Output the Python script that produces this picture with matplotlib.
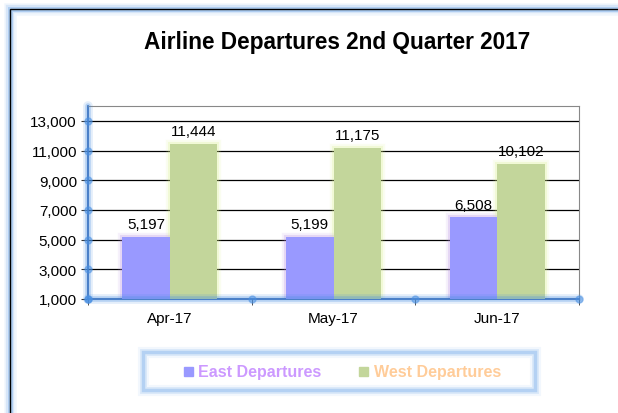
import numpy as np
import matplotlib.pyplot as plt
from matplotlib.patches import Rectangle
from matplotlib.ticker import FuncFormatter

months = ["Apr-17", "May-17", "Jun-17"]
east = [5197, 5199, 6508]
west = [11444, 11175, 10102]
yticks = [1000, 3000, 5000, 7000, 9000, 11000, 13000]

east_color = "#9999FF"
west_color = "#C3D69B"

plt.rcParams['font.family'] = ['Liberation Sans', 'DejaVu Sans']

fig = plt.figure(figsize=(6.18, 4.14), dpi=100)
fig.patch.set_facecolor("white")

# pixel -> figure fraction helpers
W, H = 618, 414
def fx(px):
    return px / W
def fy(py):
    return 1 - py / H

# outer chart frame with blue glow (left / top)
for lw, a in [(9, 0.08), (6, 0.15), (3.5, 0.3)]:
    fig.add_artist(Rectangle((fx(10), fy(440)), fx(660) - fx(10), fy(10) - fy(440),
                             transform=fig.transFigure, fill=False,
                             edgecolor="#4A90E2", lw=lw, alpha=a))
fig.add_artist(Rectangle((fx(10), fy(440)), fx(660) - fx(10), fy(10) - fy(440),
                         transform=fig.transFigure, fill=False,
                         edgecolor="black", lw=1.0))

ax = fig.add_axes([fx(88), fy(300), fx(579) - fx(88), fy(107) - fy(300)])
x = np.arange(len(months))
w = 0.29

# glow behind bars
for lw, a in [(6, 0.12), (3, 0.25)]:
    ax.bar(x - w / 2, [v - 1000 for v in east], w, bottom=1000, color="none",
           edgecolor="#B58CE0", lw=lw, alpha=a, zorder=2)
    ax.bar(x + w / 2, [v - 1000 for v in west], w, bottom=1000, color="none",
           edgecolor="#D8F08A", lw=lw, alpha=a, zorder=2)
ax.bar(x - w / 2, [v - 1000 for v in east], w, bottom=1000, color=east_color, zorder=3)
ax.bar(x + w / 2, [v - 1000 for v in west], w, bottom=1000, color=west_color, zorder=3)

for i in range(len(months)):
    ax.text(x[i] - w / 2, east[i] + 380, f"{east[i]:,}", ha="center", va="bottom",
            fontsize=11, zorder=5)
    ax.text(x[i] + w / 2, west[i] + 380, f"{west[i]:,}", ha="center", va="bottom",
            fontsize=11, zorder=5)

ax.set_xlim(-0.5, 2.5)
ax.set_ylim(1000, 14000)
ax.set_yticks(yticks)
ax.yaxis.set_major_formatter(FuncFormatter(lambda v, p: f"{int(v):,}"))
for t in yticks[1:]:
    ax.axhline(t, color="black", lw=0.9, zorder=1)

ax.set_xticks(x)
ax.set_xticklabels(months, fontsize=11)
ax.set_xticks([-0.5, 0.5, 1.5, 2.5], minor=True)
ax.tick_params(axis="x", which="major", length=0, pad=9)
ax.tick_params(axis="x", which="minor", length=4, color="#333333", direction="out")
ax.tick_params(axis="y", length=5, labelsize=11, color="#333333", pad=3)

for s in ["top", "right"]:
    ax.spines[s].set_color("#888888")
    ax.spines[s].set_linewidth(0.8)
for s in ["left", "bottom"]:
    ax.spines[s].set_color("#2A5CAA")
    ax.spines[s].set_linewidth(1.2)

# blue glow along left and bottom axes
for lw, a in [(7, 0.15), (4, 0.3)]:
    ax.plot([-0.5, -0.5], [1000, 14000], color="#4A90E2", lw=lw, alpha=a,
            clip_on=False, zorder=6, solid_capstyle="round")
    ax.plot([-0.5, 2.5], [1000, 1000], color="#4A90E2", lw=lw, alpha=a,
            clip_on=False, zorder=6, solid_capstyle="round")
ax.plot([-0.5] * len(yticks), yticks, "o", color="#4A90E2", ms=5, alpha=0.5,
        clip_on=False, zorder=6)
ax.plot([-0.5, 0.5, 1.5, 2.5], [1000] * 4, "o", color="#4A90E2", ms=5, alpha=0.5,
        clip_on=False, zorder=6)

fig.text(fx(337.5), fy(43), "Airline Departures 2nd Quarter 2017", ha="center",
         va="center", fontsize=16.3, fontweight="bold")

# legend box
lx0, ly0, lx1, ly1 = 143, 353, 535, 391
for lw, a in [(8, 0.08), (5, 0.15), (2.5, 0.3)]:
    fig.add_artist(Rectangle((fx(lx0), fy(ly1)), fx(lx1) - fx(lx0), fy(ly0) - fy(ly1),
                             transform=fig.transFigure, fill=False,
                             edgecolor="#5A9BE6", lw=lw, alpha=a))
fig.add_artist(Rectangle((fx(184), fy(377)), 9 / W, 9 / H, transform=fig.transFigure,
                         color=east_color))
fig.text(fx(198), fy(372.5), "East Departures", color="#CC99FF", fontsize=11.5,
         fontweight="bold", va="center", ha="left")
fig.add_artist(Rectangle((fx(359), fy(377)), 9 / W, 9 / H, transform=fig.transFigure,
                         color=west_color))
fig.text(fx(374), fy(372.5), "West Departures", color="#FFCC99", fontsize=11.5,
         fontweight="bold", va="center", ha="left")

fig.savefig("out.png", dpi=100)
